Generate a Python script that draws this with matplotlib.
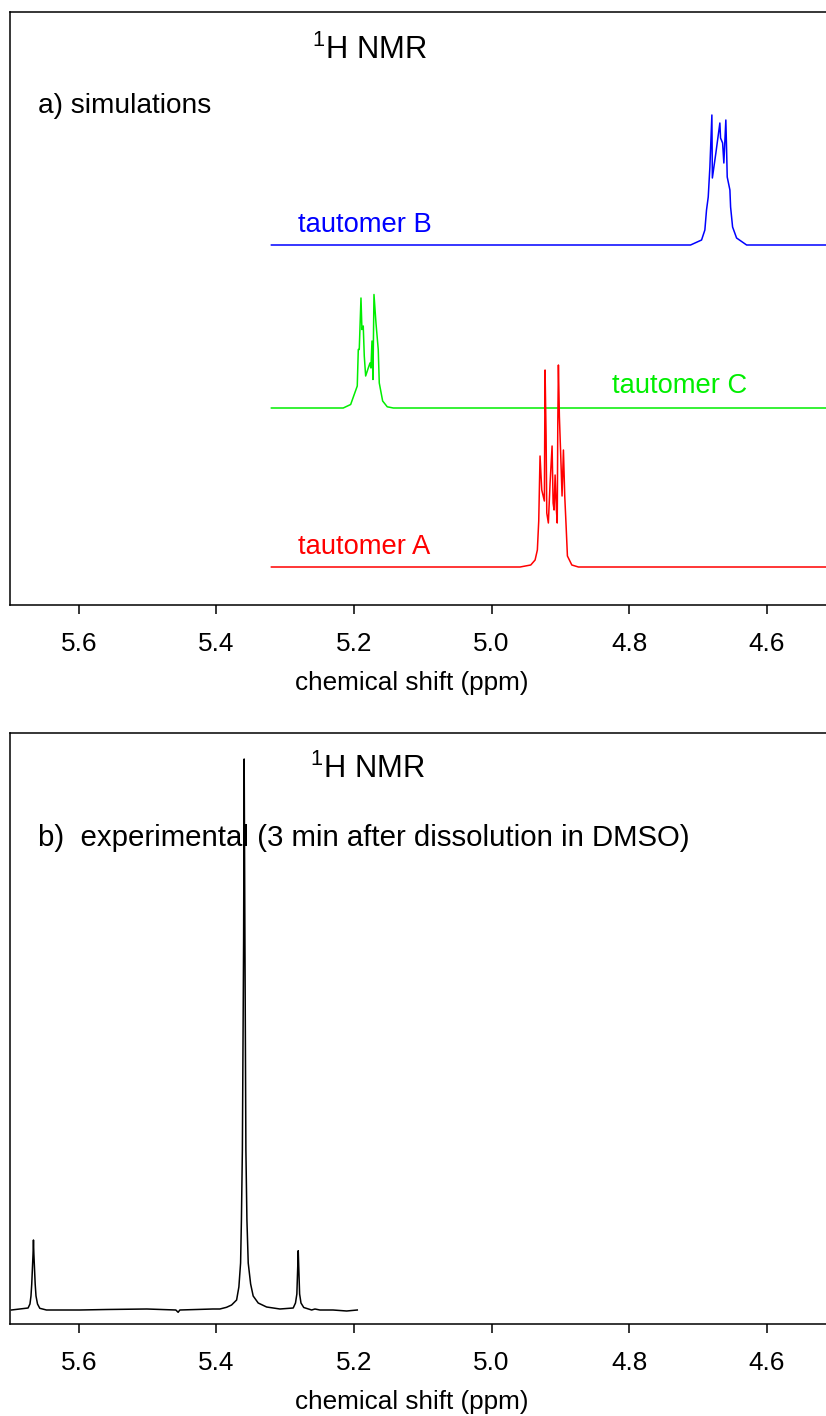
import matplotlib
matplotlib.use("Agg")
import matplotlib.pyplot as plt
import numpy as np

plt.rcParams['font.family'] = ['Liberation Sans', 'DejaVu Sans']

# ---------------- data ----------------
# simulated spectra (ppm, intensity relative to own baseline, arbitrary units)
b_ppm = [5.32, 4.7107, 4.6947, 4.6899, 4.6875, 4.6850, 4.6826, 4.6797, 4.6790,
         4.6739, 4.6681, 4.6671, 4.6641, 4.6623, 4.6594, 4.6583, 4.6574, 4.6535,
         4.6525, 4.6496, 4.6438, 4.6292, 4.50]
b_int = [0.0, 0.0, 0.05, 0.15, 0.35, 0.48, 0.78, 1.30, 0.67,
         0.92, 1.22, 1.07, 1.02, 0.82, 1.25, 0.95, 0.68, 0.55,
         0.38, 0.18, 0.07, 0.0, 0.0]

c_ppm = [5.32, 5.2156, 5.2048, 5.1952, 5.1937, 5.1923, 5.1898, 5.1884, 5.1865,
         5.1850, 5.1830, 5.1792, 5.1767, 5.1753, 5.1738, 5.1724, 5.1709, 5.1680,
         5.1647, 5.1632, 5.1583, 5.1516, 5.1428, 4.50]
c_int = [0.0, 0.0, 0.035, 0.22, 0.585, 0.585, 1.10, 0.785, 0.82,
         0.52, 0.32, 0.40, 0.45, 0.40, 0.67, 0.285, 1.135, 0.85,
         0.585, 0.25, 0.07, 0.012, 0.0, 0.0]

a_ppm = [5.32, 4.9585, 4.9430, 4.9367, 4.9334, 4.9314, 4.9295, 4.9270, 4.9232,
         4.9222, 4.9207, 4.9197, 4.9174, 4.9149, 4.9120, 4.9105, 4.9091, 4.9076,
         4.9057, 4.9045, 4.9037, 4.9028, 4.9014, 4.8994, 4.8975, 4.8955, 4.8936,
         4.8916, 4.8897, 4.8833, 4.8737, 4.50]
a_int = [0.0, 0.0, 0.02, 0.07, 0.17, 0.46, 1.11, 0.77, 0.66,
         1.97, 1.31, 0.54, 0.44, 0.84, 1.21, 0.64, 0.57, 0.92,
         0.57, 0.44, 1.42, 2.02, 1.51, 1.11, 0.71, 1.17, 0.71,
         0.41, 0.11, 0.02, 0.0, 0.0]

# experimental spectrum (ppm, intensity)
exp_ppm = [5.698, 5.6737, 5.6710, 5.6695, 5.6684, 5.6665, 5.6659, 5.6653, 5.6634,
           5.6622, 5.6600, 5.6567, 5.6470,
           5.5985, 5.5593, 5.5011, 5.4589, 5.4556, 5.4531, 5.4051, 5.3949, 5.3852,
           5.3779, 5.3706, 5.3673, 5.3648, 5.3636, 5.3622, 5.3604, 5.3596, 5.3585,
           5.3571, 5.3556, 5.3537, 5.3502, 5.3465, 5.3392, 5.3270, 5.3076, 5.2883,
           5.2850, 5.2830, 5.2816, 5.2810, 5.2804, 5.2790, 5.2770, 5.2730, 5.2615,
           5.2567, 5.2495, 5.2305, 5.2106, 5.1952]
exp_int = [0.14, 0.16, 0.20, 0.28, 0.40, 0.70, 0.84, 0.70, 0.40,
           0.28, 0.20, 0.157, 0.14,
           0.14, 0.145, 0.15, 0.14, 0.117, 0.14, 0.15, 0.15, 0.167,
           0.19, 0.24, 0.37, 0.61, 1.04, 1.74, 3.84, 5.65, 3.84,
           1.74, 1.04, 0.61, 0.40, 0.28, 0.21, 0.17, 0.15, 0.16,
           0.21, 0.30, 0.60, 0.733, 0.60, 0.30, 0.21, 0.165, 0.14,
           0.15, 0.14, 0.14, 0.13, 0.14]

tick_vals = [5.6, 5.4, 5.2, 5.0, 4.8, 4.6]
tick_labels = ["5.6", "5.4", "5.2", "5.0", "4.8", "4.6"]

# layout / style
offsets = {"B": 3.60, "C": 1.97, "A": 0.38}
colors = {"B": "#0000ff", "C": "#00ee00", "A": "#ff0000"}
FS_TICK = 18.8
FS_LBL = 19.7

fig = plt.figure(figsize=(8.26, 14.16), dpi=100)
W, H = 826, 1416
ax1 = fig.add_axes([10 / W, (H - 605) / H, 825.5 / W, 593 / H])
ax2 = fig.add_axes([10 / W, (H - 1324) / H, 825.5 / W, 591 / H])

for ax in (ax1, ax2):
    ax.set_xlim(5.7, 4.5)
    ax.set_xticks(tick_vals)
    ax.set_xticklabels(tick_labels)
    ax.set_yticks([])
    ax.tick_params(axis='x', direction='out', length=6.5, width=1.1, pad=13,
                   labelsize=FS_TICK, colors='black')
    for s in ax.spines.values():
        s.set_linewidth(1.1)
    ax.set_xlabel("chemical shift (ppm)", fontsize=FS_TICK, labelpad=11,
                  x=(412 - 10) / 825.5, ha='center')

ax1.set_ylim(0, 5.93)
ax2.set_ylim(0, 5.91)

for key, xs, ys in (("B", b_ppm, b_int), ("C", c_ppm, c_int), ("A", a_ppm, a_int)):
    ax1.plot(xs, np.array(ys) + offsets[key], color=colors[key], lw=1.1)

ax1.text(5.2815, 3.80, "tautomer B", color=colors["B"], fontsize=FS_LBL, va='center', ha='left')
ax1.text(4.8247, 2.19, "tautomer C", color=colors["C"], fontsize=FS_LBL, va='center', ha='left')
ax1.text(5.2815, 0.58, "tautomer A", color=colors["A"], fontsize=FS_LBL, va='center', ha='left')

ax1.text(0.366, 0.936, r"$^{\mathregular{1}}$H NMR", transform=ax1.transAxes,
         fontsize=22.3, va='center', ha='left')
ax1.text(0.034, 0.841, "a) simulations", transform=ax1.transAxes,
         fontsize=20.2, va='center', ha='left')

ax2.plot(exp_ppm, exp_int, color='black', lw=1.1)
ax2.text(0.364, 0.939, r"$^{\mathregular{1}}$H NMR", transform=ax2.transAxes,
         fontsize=22.3, va='center', ha='left')
ax2.text(0.034, 0.822, "b)  experimental (3 min after dissolution in DMSO)",
         transform=ax2.transAxes, fontsize=21.2, va='center', ha='left')

fig.savefig("out.png", dpi=100)
